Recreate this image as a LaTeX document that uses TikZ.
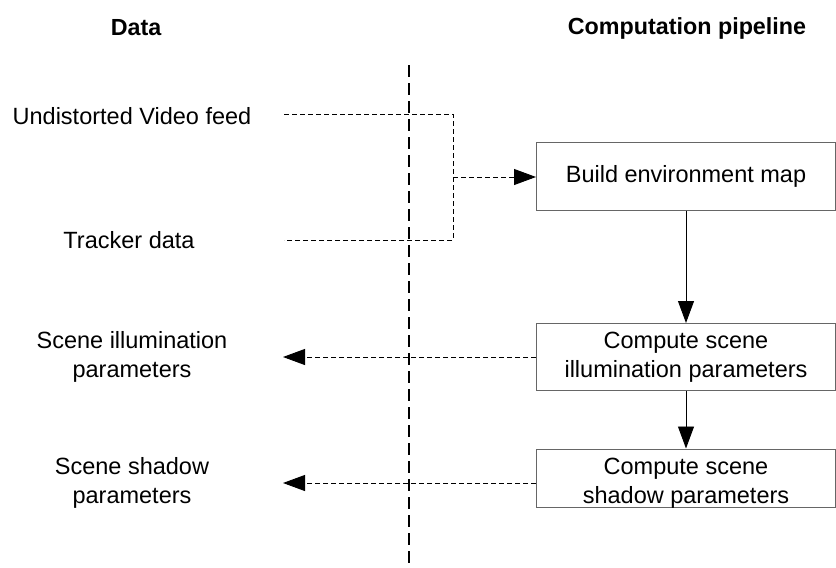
\documentclass[tikz,border=0pt]{standalone}
\usepackage{fontspec}
\setmainfont{Liberation Sans}
\usetikzlibrary{arrows.meta}
\begin{document}
\begin{tikzpicture}[x=1pt,y=-1pt,
  every node/.style={font=\fontsize{23.5}{29}\selectfont},
  procbox/.style={draw=black!60,line width=1pt,minimum width=299pt,align=center,inner sep=0pt},
  lbl/.style={align=center,inner sep=0pt},
  head/.style={font=\bfseries\fontsize{23.3}{28}\selectfont},
  tip/.style={-{Triangle[length=22pt,width=16pt]}},
  flow/.style={draw,line width=0.9pt,tip},
  dflow/.style={draw,line width=0.9pt,dash pattern=on 5pt off 3pt},
  sep/.style={draw,line width=1.6pt,dash pattern=on 12pt off 6pt}]
\useasboundingbox (0,0) rectangle (836,568);
\node[head] (hdata) at (136,28) {Data};
\node[head] (hcomp) at (687,28) {Computation pipeline};
\coordinate (st) at (409,65);
\coordinate (sb) at (409,568);
\path[sep] (st) -- (sb);
\node[lbl] (video) at (132,116) {Undistorted Video feed};
\node[lbl] (tracker) at (129,240) {Tracker data};
\coordinate (v0) at (284,114);
\coordinate (t0) at (284,240);
\coordinate (j1) at (453,114);
\coordinate (j2) at (453,240);
\coordinate (jm) at (453,177);
\node[procbox,minimum height=68pt] (b1) at (686,176) {Build environment map};
\node[procbox,minimum height=67pt] (b2) at (686,357) {Compute scene\\illumination parameters};
\node[procbox,minimum height=58pt] (b3) at (686,478) {};
\node[lbl] (b3t) at (686,483) {Compute scene\\shadow parameters};
\path[dflow] (v0) -- (j1) -- (j2) -- (t0);
\path[dflow,tip] (jm) -- (b1.west |- jm);
\path[flow] (b1) -- (b2);
\path[flow] (b2) -- (b3);
\node[lbl] (illum) at (132,357) {Scene illumination\\parameters};
\node[lbl] (shadow) at (132,483) {Scene shadow\\parameters};
\coordinate (a2) at (283,357);
\coordinate (a3) at (283,483);
\path[dflow,tip] (b2.west |- a2) -- (a2);
\path[dflow,tip] (b3.west |- a3) -- (a3);
\end{tikzpicture}
\end{document}
